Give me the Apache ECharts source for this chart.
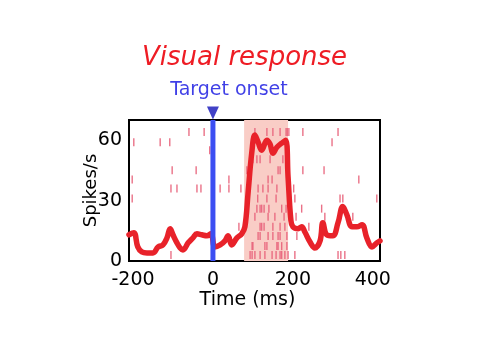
<!DOCTYPE html>
<html>
<head>
<meta charset="utf-8">
<script src="https://cdn.jsdelivr.net/npm/echarts@6/dist/echarts.min.js"></script>
<style>html,body{margin:0;padding:0;background:#fff;}#c{width:489px;height:350px;}</style>
</head>
<body>
<div id="c"></div>
<script>
// ---- data ----
var titleText = 'Visual response';
var eventLabel = 'Target onset';
var xTicks = [-200, 0, 200, 400];
var yTicks = [0, 30, 60];
var eventTime = 0;
var responseWindow = [78, 188];
// PSTH: [time ms, spikes/s]
var psth = [[-210,13],[-198,14],[-188,7],[-178,4.5],[-165,4],[-150,4],[-137,7],[-125,8],[-115,11.5],[-107,16],[-100,13],[-90,9],[-82,6.5],[-75,5.5],[-62,9],[-50,11.5],[-40,13.5],[-28,13],[-15,12.5],[-5,13.5],[5,7],[18,8],[30,10],[38,12.5],[47,8],[60,11.5],[72,13.5],[80,17],[88,34],[97,53.5],[105,62.5],[113,59],[122,55],[135,60],[143,58],[150,53.5],[160,56.5],[172,58.5],[182,60],[188,41.6],[195,20.3],[200,17],[213,16],[222,17],[230,14.4],[243,9.4],[255,6.5],[268,10],[275,19],[285,13],[300,12.5],[313,19],[325,27],[335,23],[348,17],[360,17],[373,18],[385,11.5],[398,7],[410,9],[418,10]];
// raster rows: row level (drawn at this y) and spike times
var rasterRowLevels = [64, 59, 55, 50.5, 45, 40.5, 36, 31, 26, 22, 17, 12.4, 7.4, 3];
var rasterRowTimes = [
  [-60,-22,105,135,150,168,183,186,190,225,313],
  [-198,-132,-108,298],
  [-8,95],
  [100,110,118,143,175],
  [-102,-42,85,163,168,225,278],
  [-202,40,138,148,365],
  [-105,-90,-40,-30,18,40,70,113,125,138,160,202],
  [-202,112,135,158,205,318,325,410],
  [110,118,122,128,140,172,183,222,272],
  [105,138,155,178,208,280,350],
  [65,118,122,128,150,168,180,240],
  [113,118,138,150,163,168,185,210],
  [98,100,130,135,160,163,172,185],
  [-105,93,98,105,118,130,148,158,168,172,180,188,205,313,320,330]
];
// ---- build ----
var raster = [];
rasterRowTimes.forEach(function(row, i){
  row.forEach(function(t){ raster.push([t, rasterRowLevels[i]]); });
});
var FONT = 'DejaVu Sans';
var chart = echarts.init(document.getElementById('c'), null, {renderer:'canvas'});
chart.setOption({
  animation: false,
  backgroundColor: '#fff',
  title: {
    text: titleText, left: 'center', top: 40,
    textStyle: {color:'#ee1c24', fontFamily: FONT, fontStyle:'italic', fontWeight:'normal', fontSize:26}
  },
  grid: {left:129, top:120, width:251, height:141, show:true, borderColor:'#000', borderWidth:2, backgroundColor:'transparent'},
  xAxis: {
    type:'value', min:-210, max:418,
    name:'Time (ms)', nameLocation:'middle', nameGap:30, nameMoveOverlap:false,
    nameTextStyle:{color:'#000', fontFamily:FONT, fontSize:19, padding:[0,14,0,0]},
    axisLine:{show:false}, axisTick:{show:false}, splitLine:{show:false},
    axisLabel:{customValues:xTicks, color:'#000', fontFamily:FONT, fontSize:19, margin:10, showMinLabel:true, showMaxLabel:true}
  },
  yAxis: {
    type:'value', min:0, max:70,
    name:'Spikes/s', nameLocation:'middle', nameGap:29, nameMoveOverlap:false,
    nameTextStyle:{color:'#000', fontFamily:FONT, fontSize:18},
    axisLine:{show:false}, axisTick:{show:false}, splitLine:{show:false},
    axisLabel:{customValues:yTicks, color:'#000', fontFamily:FONT, fontSize:19, margin:7}
  },
  series: [
    {
      type:'scatter', data:raster, symbol:'rect', symbolSize:[1.4,8],
      itemStyle:{color:'#e8627a', opacity:0.9}, z:2, silent:true,
      markArea:{silent:true, itemStyle:{color:'#f9cdc6'}, data:[[{xAxis:responseWindow[0]},{xAxis:responseWindow[1]}]]}
    },
    {
      type:'line', data:psth, smooth:0.4, showSymbol:false, symbol:'none',
      lineStyle:{color:'#e8222a', width:5.5, cap:'round', join:'round'}, z:3
    },
    {
      type:'line', data:[[eventTime,0],[eventTime,70]], showSymbol:false, symbol:'none',
      lineStyle:{color:'#3b4ef2', width:5}, z:4
    },
    {
      type:'scatter', data:[[eventTime,73.5]], clip:false, symbol:'triangle', symbolRotate:180, symbolSize:[12,13],
      itemStyle:{color:'#1212b8'}, z:5,
      label:{show:true, position:'top', distance:7, offset:[16,0], formatter:eventLabel, color:'#0f0fe0', fontFamily:FONT, fontSize:19}
    }
  ]
});
</script>
</body>
</html>
